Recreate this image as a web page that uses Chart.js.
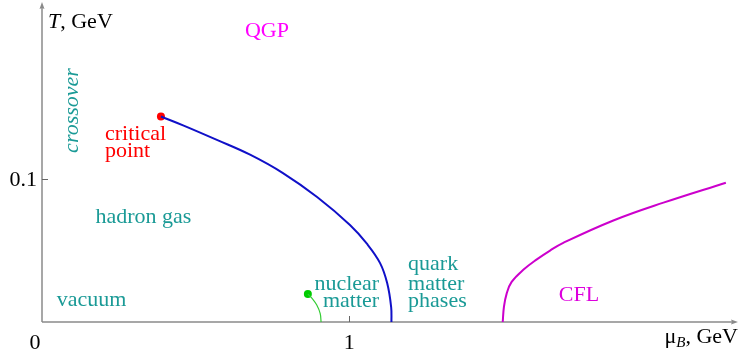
<!DOCTYPE html>
<html>
    <head>
        <meta charset="utf-8" />
        <title>QCD phase diagram</title>
        <script src="https://cdn.jsdelivr.net/npm/chart.js@4/dist/chart.umd.min.js"></script>
        <style>
            body { margin: 0; background: #fff; }
            #wrap { width: 741px; height: 361px; }
        </style>
    </head>
    <body>
        <div id="wrap"><canvas id="phase" width="741" height="361"></canvas></div>
        <script>
            // axis ranges (GeV)
            const muMax = 2.258;
            const tMax = 0.223;
            const xTicks = [1];
            const yTicks = [0.1];
            const xTickLabels = ["1"];
            const yTickLabels = ["0.1"];

            // first order line from the critical point
            const blueMu = [0.387, 0.459, 0.569, 0.677, 0.784, 0.895, 1.002, 1.057, 1.100, 1.123, 1.136, 1.137];
            const blueT  = [0.1441, 0.1379, 0.1277, 0.1173, 0.1044, 0.0876, 0.0680, 0.0549, 0.0413, 0.0273, 0.0105, 0];

            // nuclear liquid-gas line
            const greenMu = [0.865, 0.880, 0.894, 0.905, 0.908];
            const greenT  = [0.0196, 0.0163, 0.0119, 0.0061, 0];

            // CFL boundary
            const cflMu = [1.499, 1.503, 1.512, 1.528, 1.566, 1.610, 1.653, 1.696, 1.859, 2.022, 2.225];
            const cflT  = [0, 0.0107, 0.0201, 0.0281, 0.0366, 0.0439, 0.0501, 0.0555, 0.0712, 0.0837, 0.0977];

            // region labels: text, mu, T (baseline), align
            const labelText  = ["QGP", "critical", "point", "hadron gas", "vacuum", "nuclear", "matter", "quark", "matter", "phases", "CFL"];
            const labelMu    = [0.732, 0.205, 0.205, 0.330, 0.161, 1.097, 1.097, 1.191, 1.191, 1.191, 1.747];
            const labelT     = [0.2002, 0.1273, 0.1154, 0.0692, 0.0112, 0.0224, 0.0105, 0.0364, 0.0224, 0.0105, 0.0147];
            const labelAlign = ["center", "left", "left", "center", "center", "right", "right", "left", "left", "left", "center"];
            const labelColor = ["#ff00ff", "#ff0000", "#ff0000", "#1a9a96", "#1a9a96", "#1a9a96", "#1a9a96", "#1a9a96", "#1a9a96", "#1a9a96", "#dd00dd"];

            const serif = "'Liberation Serif', 'DejaVu Serif', serif";

            function pts(xs, ys) {
                return xs.map((x, i) => ({ x: x, y: ys[i] }));
            }

            const axesPlugin = {
                id: "axes",
                beforeDatasetsDraw(chart) {
                    const ctx = chart.ctx;
                    const x = chart.scales.x, y = chart.scales.y;
                    const x0 = x.getPixelForValue(0), y0 = y.getPixelForValue(0);
                    const xEnd = x.getPixelForValue(muMax), yEnd = y.getPixelForValue(tMax);
                    ctx.save();
                    ctx.strokeStyle = "#8a8a8a";
                    ctx.fillStyle = "#8a8a8a";
                    ctx.lineWidth = 1.5;
                    ctx.beginPath();
                    ctx.moveTo(x0, y0); ctx.lineTo(xEnd - 2, y0);
                    ctx.moveTo(x0, y0); ctx.lineTo(x0, yEnd + 2);
                    ctx.stroke();
                    // arrow heads
                    ctx.beginPath();
                    ctx.moveTo(xEnd + 2, y0); ctx.lineTo(xEnd - 5, y0 - 2.5); ctx.lineTo(xEnd - 4, y0); ctx.lineTo(xEnd - 5, y0 + 2.5);
                    ctx.closePath(); ctx.fill();
                    ctx.beginPath();
                    ctx.moveTo(x0, yEnd - 2); ctx.lineTo(x0 - 2.5, yEnd + 5); ctx.lineTo(x0, yEnd + 4); ctx.lineTo(x0 + 2.5, yEnd + 5);
                    ctx.closePath(); ctx.fill();
                    // inward tick marks
                    ctx.lineWidth = 1;
                    ctx.strokeStyle = "#666";
                    ctx.beginPath();
                    xTicks.forEach(v => { const px = Math.round(x.getPixelForValue(v)) + 0.5; ctx.moveTo(px, y0); ctx.lineTo(px, y0 - 6); });
                    yTicks.forEach(v => { const py = Math.round(y.getPixelForValue(v)) + 0.5; ctx.moveTo(x0, py); ctx.lineTo(x0 + 6, py); });
                    ctx.stroke();
                    ctx.restore();
                },
                afterDatasetsDraw(chart) {
                    const ctx = chart.ctx;
                    const x = chart.scales.x, y = chart.scales.y;
                    const x0 = x.getPixelForValue(0), y0 = y.getPixelForValue(0);
                    ctx.save();
                    ctx.textBaseline = "alphabetic";
                    ctx.font = "22px " + serif;
                    ctx.fillStyle = "#000";

                    // tick labels
                    ctx.textAlign = "center";
                    ctx.fillText("0", x0 - 7, y0 + 27);
                    xTicks.forEach((v, i) => ctx.fillText(xTickLabels[i], x.getPixelForValue(v), y0 + 27));
                    ctx.textAlign = "right";
                    yTicks.forEach((v, i) => ctx.fillText(yTickLabels[i], x0 - 5, y.getPixelForValue(v) + 7));

                    // y title: T, GeV
                    ctx.textAlign = "left";
                    ctx.font = "italic 22px " + serif;
                    ctx.fillText("T", x0 + 6, 28);
                    let w = ctx.measureText("T").width;
                    ctx.font = "22px " + serif;
                    ctx.fillText(", GeV", x0 + 6 + w, 28);

                    // x title: mu_B, GeV (right aligned at the arrow)
                    ctx.font = "22px " + serif;
                    const wMu = ctx.measureText("\u03bc").width;
                    const wRest = ctx.measureText(", GeV").width;
                    ctx.font = "italic 15px " + serif;
                    const wB = ctx.measureText("B").width;
                    let sx = x.getPixelForValue(muMax) + 2 - (wMu + wB + wRest);
                    ctx.font = "22px " + serif;
                    ctx.fillText("\u03bc", sx, y0 + 21);
                    ctx.font = "italic 15px " + serif;
                    ctx.fillText("B", sx + wMu, y0 + 25);
                    ctx.font = "22px " + serif;
                    ctx.fillText(", GeV", sx + wMu + wB, y0 + 21);

                    // region labels
                    labelText.forEach((t, i) => {
                        ctx.textAlign = labelAlign[i];
                        ctx.fillStyle = labelColor[i];
                        ctx.fillText(t, x.getPixelForValue(labelMu[i]), y.getPixelForValue(labelT[i]));
                    });

                    // crossover, rotated
                    ctx.save();
                    ctx.translate(x.getPixelForValue(0.117), y.getPixelForValue(0.1483));
                    ctx.rotate(-Math.PI / 2);
                    ctx.font = "italic 22px " + serif;
                    ctx.fillStyle = "#1a9a96";
                    ctx.textAlign = "center";
                    ctx.fillText("crossover", 0, 0);
                    ctx.restore();

                    ctx.restore();
                }
            };

            new Chart(document.getElementById("phase"), {
                type: "scatter",
                data: {
                    datasets: [
                        {
                            data: pts(blueMu, blueT),
                            showLine: true,
                            borderColor: "#1010c8",
                            borderWidth: 2,
                            pointRadius: 0,
                            tension: 0.4,
                            clip: false
                        },
                        {
                            data: pts(greenMu, greenT),
                            showLine: true,
                            borderColor: "#33cc33",
                            borderWidth: 1.2,
                            pointRadius: 0,
                            tension: 0.4,
                            clip: false
                        },
                        {
                            data: pts(cflMu, cflT),
                            showLine: true,
                            borderColor: "#cc00cc",
                            borderWidth: 2,
                            pointRadius: 0,
                            tension: 0.4,
                            clip: false
                        },
                        {
                            data: [{ x: blueMu[0], y: blueT[0] }],
                            backgroundColor: "#ff0000",
                            borderWidth: 0,
                            pointRadius: 4,
                            clip: false
                        },
                        {
                            data: [{ x: greenMu[0], y: greenT[0] }],
                            backgroundColor: "#00cc00",
                            borderWidth: 0,
                            pointRadius: 4,
                            clip: false
                        }
                    ]
                },
                options: {
                    responsive: false,
                    animation: false,
                    devicePixelRatio: 1,
                    layout: { padding: { left: 42, right: 5, top: 3, bottom: 39 } },
                    plugins: { legend: { display: false }, tooltip: { enabled: false } },
                    scales: {
                        x: { type: "linear", min: 0, max: muMax, display: false },
                        y: { type: "linear", min: 0, max: tMax, display: false }
                    }
                },
                plugins: [axesPlugin]
            });
        </script>
    </body>
</html>
